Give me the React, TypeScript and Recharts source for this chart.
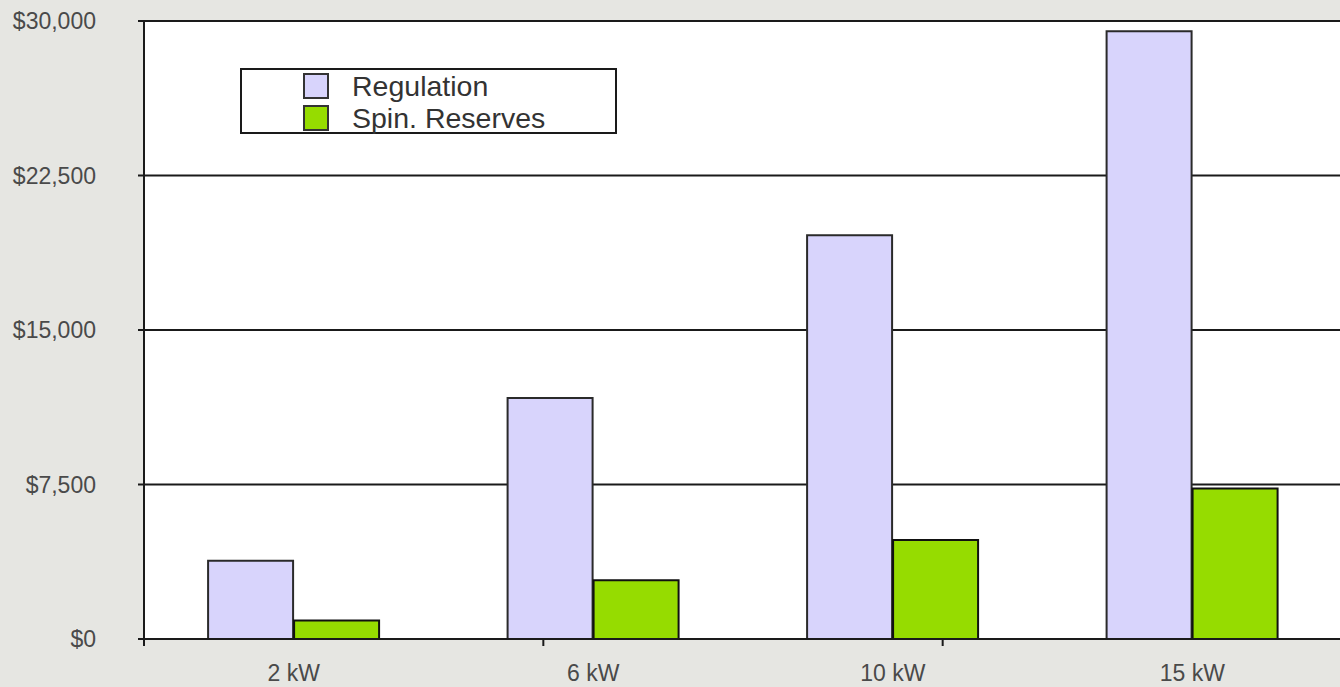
import { Bar, BarChart, CartesianGrid, Legend, XAxis, YAxis } from "recharts";

const sizes = ["2 kW", "6 kW", "10 kW", "15 kW"];
const regulation = [3800, 11700, 19600, 29500];
const spinReserves = [900, 2850, 4800, 7300];
const yTicks = [0, 7500, 15000, 22500, 30000];
const categoryEdges = [0, 1, 2, 3, 4];

const data = sizes.map((size, i) => ({
  size,
  regulation: regulation[i],
  spin: spinReserves[i],
}));

const FONT = '"Liberation Sans", Arial, Helvetica, sans-serif';
const INK = "#1a1a1a";
const LABEL = "#4a4a4a";

const money = (v: number) => `$${v.toLocaleString("en-US")}`;

// tick lines only, no text
const NoLabel = () => <g />;

function LegendBox({ payload }: any) {
  return (
    <div
      style={{
        width: 377,
        height: 66,
        border: `2px solid ${INK}`,
        background: "#fff",
        paddingLeft: 61,
        boxSizing: "border-box",
        fontFamily: FONT,
      }}
    >
      {(payload || []).map((p: any) => (
        <div key={p.value} style={{ display: "flex", alignItems: "center", height: 32 }}>
          <span
            style={{
              width: 22,
              height: 22,
              background: p.color,
              border: "2px solid #333",
              display: "inline-block",
            }}
          />
          <span style={{ marginLeft: 23, fontSize: 28.5, color: "#333", lineHeight: "32px" }}>
            {p.value}
          </span>
        </div>
      ))}
    </div>
  );
}

export default function App() {
  return (
    <div
      style={{
        position: "absolute",
        left: 0,
        top: 0,
        width: 1340,
        height: 687,
        overflow: "hidden",
        background: "#e6e6e2",
      }}
    >
      <BarChart
        width={1342}
        height={687}
        data={data}
        margin={{ top: 21, right: 0, bottom: 46, left: 0 }}
        barCategoryGap="21.4%"
        barGap={1}
      >
        <CartesianGrid vertical={false} fill="#fff" stroke={INK} strokeWidth={2} />
        <XAxis
          dataKey="size"
          height={1}
          axisLine={{ stroke: INK, strokeWidth: 2 }}
          tickLine={false}
          tickSize={0}
          tickMargin={26}
          tick={{ fill: LABEL, fontSize: 23, fontFamily: FONT }}
        />
        {/* small ticks on the boundaries between categories */}
        <XAxis
          xAxisId="edges"
          type="number"
          domain={[0, 4]}
          ticks={categoryEdges}
          interval={0}
          allowDataOverflow
          height={1}
          axisLine={false}
          tick={NoLabel}
          tickSize={6}
          tickLine={{ stroke: INK, strokeWidth: 2 }}
        />
        <YAxis
          width={144}
          domain={[0, 30000]}
          ticks={yTicks}
          tickFormatter={money}
          axisLine={{ stroke: INK, strokeWidth: 2 }}
          tickLine={{ stroke: INK, strokeWidth: 2 }}
          tickSize={6}
          tickMargin={42}
          tick={{ fill: LABEL, fontSize: 23, fontFamily: FONT }}
        />
        <Legend
          layout="vertical"
          align="center"
          verticalAlign="middle"
          content={<LegendBox />}
          wrapperStyle={{ left: 240, top: 68, width: "auto" }}
        />
        <Bar
          dataKey="regulation"
          name="Regulation"
          fill="#d8d4fc"
          stroke="#2a2a2a"
          strokeWidth={2}
          isAnimationActive={false}
        />
        <Bar
          dataKey="spin"
          name="Spin. Reserves"
          fill="#96dc00"
          stroke="#111"
          strokeWidth={2}
          isAnimationActive={false}
        />
      </BarChart>
    </div>
  );
}
